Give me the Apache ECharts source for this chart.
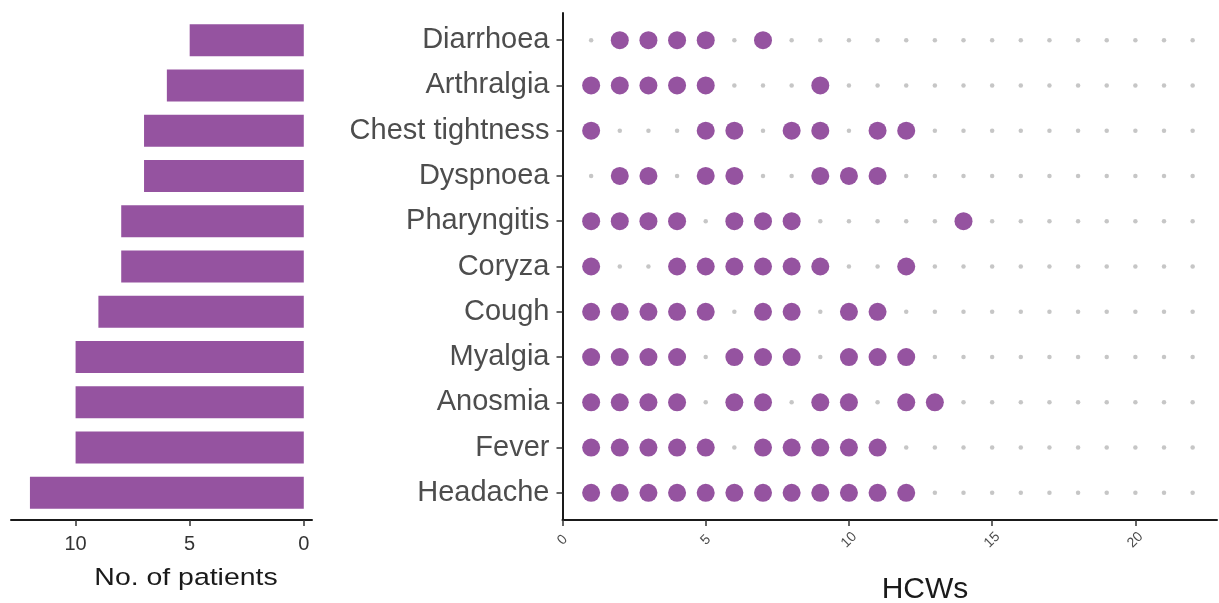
<!DOCTYPE html>
<html>
<head>
<meta charset="utf-8">
<script src="https://cdn.jsdelivr.net/npm/echarts@6/dist/echarts.min.js"></script>
<style>
  html, body { margin: 0; padding: 0; background: #fff; }
  #main { width: 1219px; height: 603px; }
</style>
</head>
<body>
<div id="main"></div>
<script>
// symptoms, bottom to top
const symptoms = ["Headache", "Fever", "Anosmia", "Myalgia", "Cough", "Coryza",
  "Pharyngitis", "Dyspnoea", "Chest tightness", "Arthralgia", "Diarrhoea"];
// no. of patients per symptom (left bars)
const patients = [12, 10, 10, 10, 9, 8, 8, 7, 7, 6, 5];
// which HCWs had each symptom (same order as symptoms)
const hcwBySymptom = [
  [1, 2, 3, 4, 5, 6, 7, 8, 9, 10, 11, 12],
  [1, 2, 3, 4, 5, 7, 8, 9, 10, 11],
  [1, 2, 3, 4, 6, 7, 9, 10, 12, 13],
  [1, 2, 3, 4, 6, 7, 8, 10, 11, 12],
  [1, 2, 3, 4, 5, 7, 8, 10, 11],
  [1, 4, 5, 6, 7, 8, 9, 12],
  [1, 2, 3, 4, 6, 7, 8, 14],
  [2, 3, 5, 6, 9, 10, 11],
  [1, 5, 6, 8, 9, 11, 12],
  [1, 2, 3, 4, 5, 9],
  [2, 3, 4, 5, 7]
];
// all HCWs (background grey dots)
const hcwAll = [1, 2, 3, 4, 5, 6, 7, 8, 9, 10, 11, 12, 13, 14, 15, 16, 17, 18, 19, 20, 21, 22];
const leftTicks = [0, 5, 10];
const rightTicks = [0, 5, 10, 15, 20];

const purple = "#9553a0";
const font = "Liberation Sans, Arial, sans-serif";

let gridDots = [];
symptoms.forEach((s, i) => {
  hcwAll.forEach(h => gridDots.push([h, i]));
});
let hitDots = [];
hcwBySymptom.forEach((list, i) => {
  list.forEach(h => hitDots.push([h, i]));
});

const mychart = echarts.init(document.getElementById("main"));

const axisLine = { show: true, onZero: false, lineStyle: { color: "#1a1a1a", width: 2 } };
const axisTick = { show: true, length: 6, lineStyle: { color: "#333", width: 1.5 } };

let option = {
  animation: false,
  grid: [
    { left: 11, right: 907, top: 17.5, bottom: 87.5 },
    { left: 562.5, right: 2, top: 13, bottom: 83 }
  ],
  xAxis: [
    {
      gridIndex: 0,
      type: "value",
      inverse: true,
      min: -0.36,
      max: 12.83,
      offset: 4.5,
      splitLine: { show: false },
      axisLine: axisLine,
      axisTick: Object.assign({ customValues: leftTicks }, axisTick),
      axisLabel: {
        customValues: leftTicks,
        margin: 14,
        color: "#333",
        fontSize: 20,
        fontFamily: font
      }
    },
    {
      gridIndex: 1,
      type: "value",
      min: 0,
      max: 22.85,
      splitLine: { show: false },
      axisLine: axisLine,
      axisTick: Object.assign({ customValues: rightTicks }, axisTick),
      axisLabel: {
        customValues: rightTicks,
        rotate: 45,
        align: "center",
        verticalAlign: "middle",
        margin: 20,
        color: "#4d4d4d",
        fontSize: 14,
        fontFamily: font
      }
    }
  ],
  yAxis: [
    {
      gridIndex: 0,
      type: "category",
      data: symptoms,
      axisLine: { show: false },
      axisTick: { show: false },
      axisLabel: { show: false }
    },
    {
      gridIndex: 1,
      type: "value",
      min: -0.6,
      max: 10.6,
      splitLine: { show: false },
      axisLine: axisLine,
      axisTick: Object.assign({ customValues: symptoms.map((s, i) => i) }, axisTick),
      axisLabel: {
        customValues: symptoms.map((s, i) => i),
        formatter: v => symptoms[Math.round(v)],
        margin: 13,
        color: "#4d4d4d",
        fontSize: 29,
        fontFamily: font
      }
    }
  ],
  graphic: [
    {
      type: "text",
      x: 186,
      y: 578,
      scaleX: 1.16,
      style: {
        text: "No. of patients",
        fill: "#1a1a1a",
        fontSize: 24.5,
        fontFamily: font,
        textAlign: "center",
        textVerticalAlign: "middle"
      }
    },
    {
      type: "text",
      x: 925,
      y: 590,
      style: {
        text: "HCWs",
        fill: "#1a1a1a",
        fontSize: 30,
        fontFamily: font,
        textAlign: "center",
        textVerticalAlign: "middle"
      }
    }
  ],
  series: [
    {
      name: "patients",
      type: "bar",
      xAxisIndex: 0,
      yAxisIndex: 0,
      data: patients,
      barWidth: 32,
      itemStyle: { color: purple }
    },
    {
      name: "all",
      type: "scatter",
      xAxisIndex: 1,
      yAxisIndex: 1,
      data: gridDots,
      symbolSize: 4.5,
      itemStyle: { color: "#b8b8b8" },
      z: 1
    },
    {
      name: "symptom",
      type: "scatter",
      xAxisIndex: 1,
      yAxisIndex: 1,
      data: hitDots,
      symbolSize: 18,
      itemStyle: { color: purple, opacity: 1 },
      z: 2
    }
  ]
};

mychart.setOption(option);
</script>
</body>
</html>
